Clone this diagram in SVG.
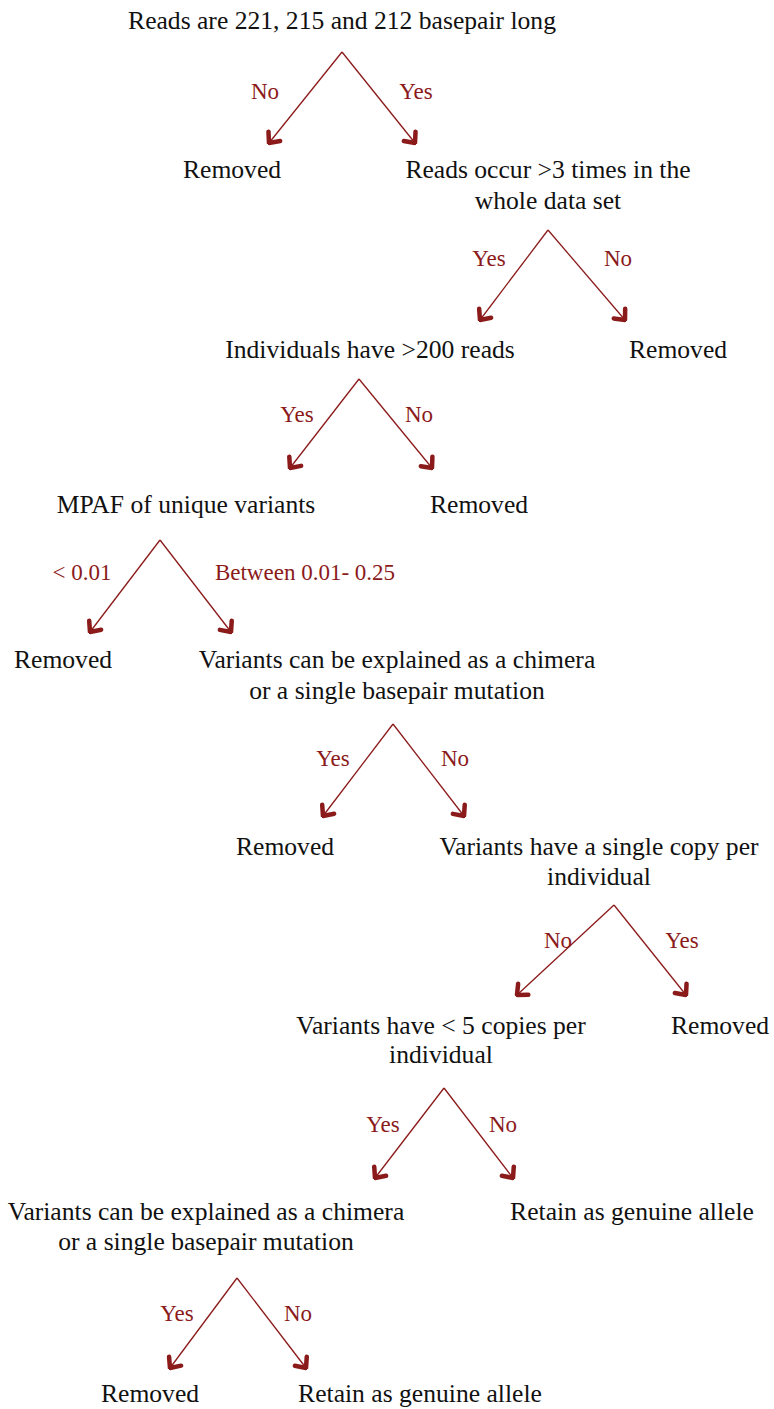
<svg xmlns="http://www.w3.org/2000/svg" width="774" height="1409" viewBox="0 0 774 1409">
<style>
.t{font-family:"Liberation Serif","Times New Roman",serif;font-size:25.6px;fill:#111;text-anchor:middle}
.l{font-family:"Liberation Serif","Times New Roman",serif;font-size:23px;fill:#8b1a1a;text-anchor:middle}
.c line{stroke:#8b1a1a;stroke-width:1.3;marker-end:url(#ah)}
</style>
<defs>
<marker id="ah" markerUnits="userSpaceOnUse" viewBox="-14 -10 16 20" refX="0" refY="0" markerWidth="16" markerHeight="20" orient="auto">
<path d="M-8.5,-7.5 L0,0 L-8.5,7.5" fill="none" stroke="#8b1a1a" stroke-width="4.5" stroke-linejoin="round" stroke-linecap="round"/>
</marker>
</defs>
<rect width="774" height="1409" fill="#fff"/>
<g class="c" id="connectors">
<line x1="342" y1="52" x2="269" y2="143"/>
<line x1="342" y1="52" x2="415" y2="143"/>
<line x1="548" y1="230" x2="480" y2="320"/>
<line x1="548" y1="230" x2="625" y2="320"/>
<line x1="359" y1="379" x2="290" y2="468"/>
<line x1="359" y1="379" x2="432" y2="468"/>
<line x1="160" y1="540" x2="90" y2="632"/>
<line x1="160" y1="540" x2="231" y2="632"/>
<line x1="393" y1="724" x2="323" y2="816"/>
<line x1="393" y1="724" x2="464" y2="816"/>
<line x1="614" y1="905" x2="517" y2="995"/>
<line x1="614" y1="905" x2="686" y2="995"/>
<line x1="444" y1="1088" x2="375" y2="1178"/>
<line x1="444" y1="1088" x2="513" y2="1178"/>
<line x1="237" y1="1278" x2="170" y2="1368"/>
<line x1="237" y1="1278" x2="306" y2="1368"/>
</g>
<g id="labels">
<text class="l" x="265" y="99">No</text>
<text class="l" x="416" y="99">Yes</text>
<text class="l" x="489" y="266">Yes</text>
<text class="l" x="618" y="266">No</text>
<text class="l" x="297" y="422">Yes</text>
<text class="l" x="419" y="422">No</text>
<text class="l" x="82" y="580">&lt; 0.01</text>
<text class="l" x="305" y="580">Between 0.01- 0.25</text>
<text class="l" x="333" y="766">Yes</text>
<text class="l" x="455" y="766">No</text>
<text class="l" x="558" y="948">No</text>
<text class="l" x="682" y="948">Yes</text>
<text class="l" x="383" y="1132">Yes</text>
<text class="l" x="503" y="1132">No</text>
<text class="l" x="177" y="1321">Yes</text>
<text class="l" x="298" y="1321">No</text>
</g>
<g id="n1"><text class="t" x="342" y="29">Reads are 221, 215 and 212 basepair long</text></g>
<g id="n2"><text class="t" x="232" y="178">Removed</text></g>
<g id="n3"><text class="t" x="548" y="178">Reads occur &gt;3 times in the</text><text class="t" x="548" y="209">whole data set</text></g>
<g id="n4"><text class="t" x="370" y="358">Individuals have &gt;200 reads</text></g>
<g id="n5"><text class="t" x="678" y="358">Removed</text></g>
<g id="n6"><text class="t" x="186" y="513">MPAF of unique variants</text></g>
<g id="n7"><text class="t" x="479" y="513">Removed</text></g>
<g id="n8"><text class="t" x="63" y="668">Removed</text></g>
<g id="n9"><text class="t" x="397" y="668">Variants can be explained as a chimera</text><text class="t" x="397" y="699">or a single basepair mutation</text></g>
<g id="n10"><text class="t" x="285" y="855">Removed</text></g>
<g id="n11"><text class="t" x="599" y="855">Variants have a single copy per</text><text class="t" x="599" y="885">individual</text></g>
<g id="n12"><text class="t" x="441" y="1034">Variants have &lt; 5 copies per</text><text class="t" x="441" y="1063">individual</text></g>
<g id="n13"><text class="t" x="720" y="1034">Removed</text></g>
<g id="n14"><text class="t" x="206" y="1220">Variants can be explained as a chimera</text><text class="t" x="206" y="1250">or a single basepair mutation</text></g>
<g id="n15"><text class="t" x="632" y="1220">Retain as genuine allele</text></g>
<g id="n16"><text class="t" x="150" y="1402">Removed</text></g>
<g id="n17"><text class="t" x="420" y="1402">Retain as genuine allele</text></g>
</svg>
